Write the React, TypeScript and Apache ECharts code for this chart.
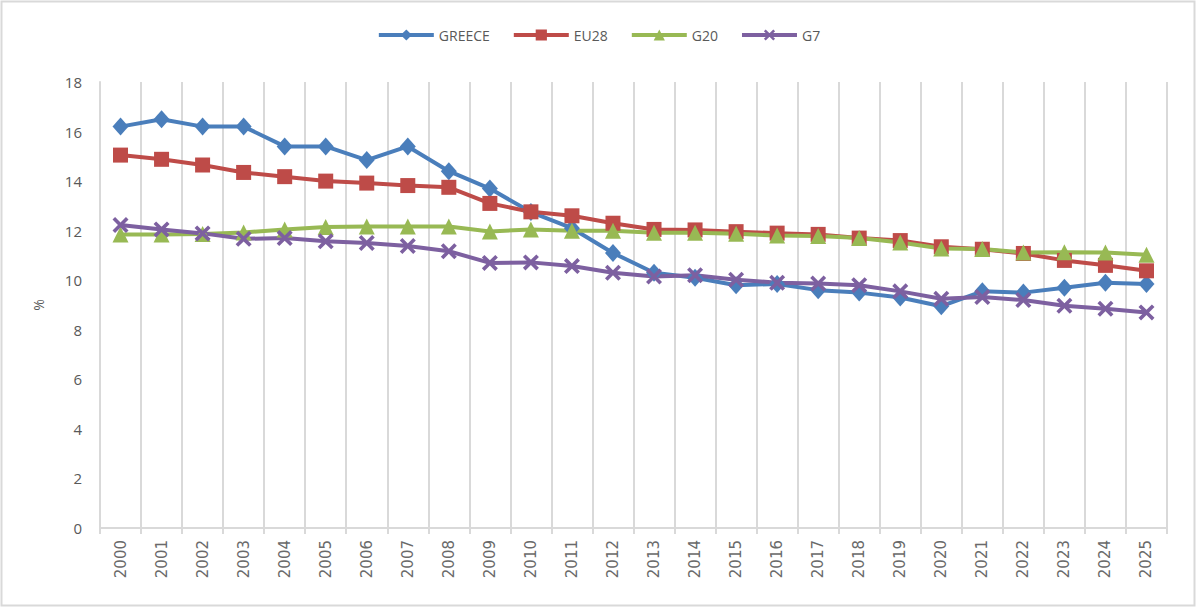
import React, { useEffect, useRef } from "react";
import * as echarts from "echarts";

const years = [
  "2000", "2001", "2002", "2003", "2004", "2005", "2006", "2007", "2008", "2009",
  "2010", "2011", "2012", "2013", "2014", "2015", "2016", "2017", "2018", "2019",
  "2020", "2021", "2022", "2023", "2024", "2025",
];

const greece = [
  16.2, 16.5, 16.2, 16.2, 15.4, 15.4, 14.85, 15.4, 14.4, 13.7,
  12.75, 12.1, 11.1, 10.3, 10.1, 9.8, 9.85, 9.6, 9.5, 9.3,
  8.95, 9.55, 9.5, 9.7, 9.9, 9.85,
];

const eu28 = [
  15.05, 14.88, 14.65, 14.35, 14.18, 14.0, 13.92, 13.82, 13.75, 13.1,
  12.76, 12.6, 12.3, 12.05, 12.03, 11.96, 11.9, 11.85, 11.7, 11.6,
  11.35, 11.25, 11.08, 10.8, 10.6, 10.38,
];

const g20 = [
  11.85, 11.85, 11.87, 11.93, 12.05, 12.15, 12.17, 12.17, 12.17, 11.97,
  12.05, 12.0, 12.0, 11.92, 11.92, 11.88, 11.8, 11.78, 11.7, 11.52,
  11.28, 11.26, 11.12, 11.13, 11.12, 11.03,
];

const g7 = [
  12.23, 12.05, 11.89, 11.67, 11.7, 11.57, 11.5, 11.38, 11.17, 10.7,
  10.72, 10.57, 10.3, 10.15, 10.2, 10.02, 9.9, 9.87, 9.8, 9.55,
  9.25, 9.32, 9.2, 8.97, 8.85, 8.7,
];

const yTicks = { min: 0, max: 18, interval: 2 };

const crossSymbol =
  "path://M0,1.6 L1.6,0 L5,3.4 L8.4,0 L10,1.6 L6.6,5 L10,8.4 L8.4,10 L5,6.6 L1.6,10 L0,8.4 L3.4,5 Z";

const textColor = "#595959";
const gridColor = "#d9d9d9";

export default function App() {
  const ref = useRef<HTMLDivElement>(null);

  useEffect(() => {
    document.body.style.margin = "0";
    if (!ref.current) return;
    const chart = echarts.init(ref.current, undefined, { renderer: "svg" });

    const lineSeries = (
      name: string,
      data: number[],
      color: string,
      symbol: string,
      symbolSize: number | number[]
    ) => ({
      name,
      type: "line",
      data,
      symbol,
      symbolSize,
      showAllSymbol: true,
      lineStyle: { color, width: 4 },
      itemStyle: { color, borderWidth: 0 },
      emphasis: { disabled: true },
    });

    chart.setOption({
      animation: false,
      backgroundColor: "#ffffff",
      textStyle: { fontFamily: "Open Sans, Noto Sans, sans-serif" },
      graphic: [
        {
          type: "rect",
          shape: { x: 1.5, y: 1.5, width: 1193, height: 604 },
          style: { fill: "none", stroke: "#d9d9d9", lineWidth: 2 },
          silent: true,
        },
      ],
      legend: {
        top: 23,
        left: "center",
        itemWidth: 55,
        itemHeight: 14,
        itemGap: 22,
        lineStyle: { width: 4 },
        textStyle: { color: textColor, fontSize: 14 },
        data: ["GREECE", "EU28", "G20", "G7"],
      },
      grid: { left: 100, right: 30, top: 82, bottom: 80, containLabel: false },
      xAxis: {
        type: "category",
        data: years,
        boundaryGap: true,
        axisLine: { show: true, lineStyle: { color: gridColor, width: 2 } },
        axisTick: { show: true, length: 6, lineStyle: { color: gridColor, width: 2 } },
        axisLabel: {
          rotate: 90,
          interval: 0,
          margin: 12,
          color: "#6a6a6a",
          fontSize: 15,
          fontFamily: "DejaVu Sans, sans-serif",
        },
        splitLine: { show: true, lineStyle: { color: gridColor, width: 2 } },
      },
      yAxis: {
        type: "value",
        min: yTicks.min,
        max: yTicks.max,
        interval: yTicks.interval,
        name: "%",
        nameLocation: "middle",
        nameGap: 55,
        nameRotate: 90,
        nameTextStyle: { color: textColor, fontSize: 14 },
        axisLine: { show: true, lineStyle: { color: gridColor, width: 2 } },
        axisTick: { show: false },
        axisLabel: { color: textColor, fontSize: 15, margin: 18 },
        splitLine: { show: false },
      },
      series: [
        lineSeries("GREECE", greece, "#4a7ebb", "diamond", [16, 18]),
        lineSeries("EU28", eu28, "#be4b48", "rect", 15),
        lineSeries("G20", g20, "#98b954", "triangle", 16),
        lineSeries("G7", g7, "#7d60a0", crossSymbol, 16),
      ],
    });

    return () => chart.dispose();
  }, []);

  return <div ref={ref} style={{ width: 1197, height: 608 }} />;
}
